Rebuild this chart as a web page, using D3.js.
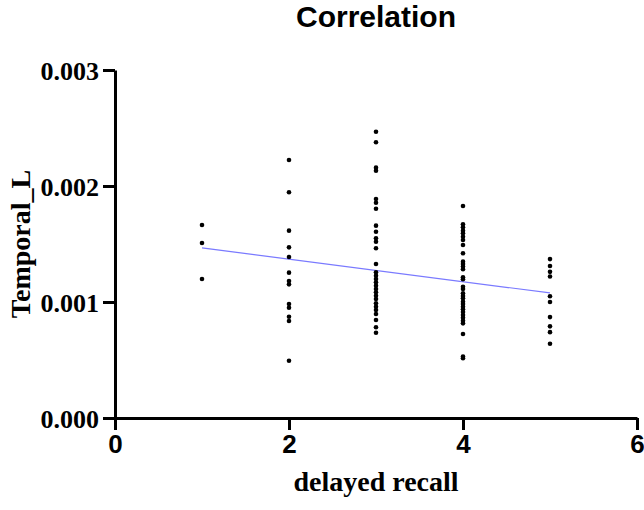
<!DOCTYPE html>
<html>
<head>
<meta charset="utf-8">
<script src="https://cdn.jsdelivr.net/npm/d3@7"></script>
<style>
  html, body { margin: 0; padding: 0; background: #fff; }
  svg { display: block; }
</style>
</head>
<body>
<script>
// ---- data ----
const title = "Correlation";
const xLabel = "delayed recall";
const yLabel = "Temporal_L";
const xTicks = [0, 2, 4, 6];
const yTicks = [0, 0.001, 0.002, 0.003];

const recall1 = [0.001664, 0.001509, 0.001198];
const recall2 = [0.002224, 0.001946, 0.001615, 0.001471, 0.001388, 0.001253, 0.001181,
                 0.001152, 0.000983, 0.000951, 0.000873, 0.000836, 0.000494];
const recall3 = [0.002468, 0.002377, 0.002158, 0.002132, 0.001888, 0.001856, 0.001804,
                 0.001658, 0.001606, 0.001549, 0.001520, 0.001463, 0.001328, 0.001256,
                 0.001227, 0.001198, 0.001170, 0.001141, 0.001112, 0.001084, 0.001054,
                 0.001026, 0.000989, 0.000959, 0.000931, 0.000897, 0.000845, 0.000782,
                 0.000735];
const recall4 = [0.001828, 0.001670, 0.001644, 0.001615, 0.001592, 0.001563, 0.001534,
                 0.001491, 0.001420, 0.001348, 0.001328, 0.001305, 0.001282, 0.001213,
                 0.001196, 0.001132, 0.001112, 0.001075, 0.001052, 0.001032, 0.001003,
                 0.000983, 0.000959, 0.000937, 0.000914, 0.000888, 0.000865, 0.000839,
                 0.000816, 0.000724, 0.000530, 0.000515];
const recall5 = [0.001370, 0.001310, 0.001260, 0.001220, 0.001050, 0.001000, 0.000870,
                 0.000790, 0.000740, 0.000640];

const groups = [
  { x: 1, values: recall1 },
  { x: 2, values: recall2 },
  { x: 3, values: recall3 },
  { x: 4, values: recall4 },
  { x: 5, values: recall5 }
];

// fitted line: y = intercept + slope * x, drawn over x in [1, 5]
const fitRange = [1, 5];
const fitIntercept = 0.001563;
const fitSlope = -0.000097;

// ---- layout ----
const W = 644, H = 510;
const svg = d3.select("body").append("svg").attr("width", W).attr("height", H);

const x = d3.scaleLinear().domain([0, 6]).range([115, 637]);
const y = d3.scaleLinear().domain([0, 0.003]).range([418, 70]);

const points = groups.flatMap(g => g.values.map(v => ({ x: g.x, y: v })));

// fit line
svg.append("line")
  .attr("x1", x(fitRange[0])).attr("y1", y(fitIntercept + fitSlope * fitRange[0]))
  .attr("x2", x(fitRange[1])).attr("y2", y(fitIntercept + fitSlope * fitRange[1]))
  .attr("stroke", "#7a7aff").attr("stroke-width", 1.2);

// points
svg.append("g").selectAll("circle").data(points).join("circle")
  .attr("cx", d => x(d.x)).attr("cy", d => y(d.y))
  .attr("r", 2.3).attr("fill", "#000");

// axes
const xAxis = d3.axisBottom(x).tickValues(xTicks).tickSize(12).tickSizeOuter(0).tickPadding(5)
  .tickFormat(d3.format("d"));
const yAxis = d3.axisLeft(y).tickValues(yTicks).tickSize(12).tickSizeOuter(0).tickPadding(4)
  .tickFormat(d3.format(".3f"));

const gx = svg.append("g").attr("transform", `translate(0,${y(0)})`).call(xAxis);
const gy = svg.append("g").attr("transform", `translate(${x(0)},0)`).call(yAxis);

[gx, gy].forEach(g => {
  g.select(".domain").attr("stroke", "#000").attr("stroke-width", 3);
  g.selectAll(".tick line").attr("stroke", "#000").attr("stroke-width", 3);
});

gx.selectAll(".tick text")
  .attr("fill", "#000")
  .style("font-family", "'Liberation Sans', Arial, sans-serif")
  .style("font-weight", "bold")
  .style("font-size", "26px");

gy.selectAll(".tick text")
  .attr("fill", "#000")
  .attr("dy", "0.35em")
  .style("font-family", "'Liberation Serif', 'Times New Roman', serif")
  .style("font-weight", "bold")
  .style("font-size", "26px");

// title
svg.append("text")
  .attr("x", 376).attr("y", 27)
  .attr("text-anchor", "middle")
  .style("font-family", "'Liberation Sans', Arial, sans-serif")
  .style("font-weight", "bold")
  .style("font-size", "30px")
  .text(title);

// x label
svg.append("text")
  .attr("x", 376).attr("y", 491)
  .attr("text-anchor", "middle")
  .style("font-family", "'Liberation Serif', 'Times New Roman', serif")
  .style("font-weight", "bold")
  .style("font-size", "28px")
  .text(xLabel);

// y label
svg.append("text")
  .attr("transform", `translate(30,244) rotate(-90)`)
  .attr("text-anchor", "middle")
  .style("font-family", "'Liberation Serif', 'Times New Roman', serif")
  .style("font-weight", "bold")
  .style("font-size", "28px")
  .text(yLabel);
</script>
</body>
</html>
